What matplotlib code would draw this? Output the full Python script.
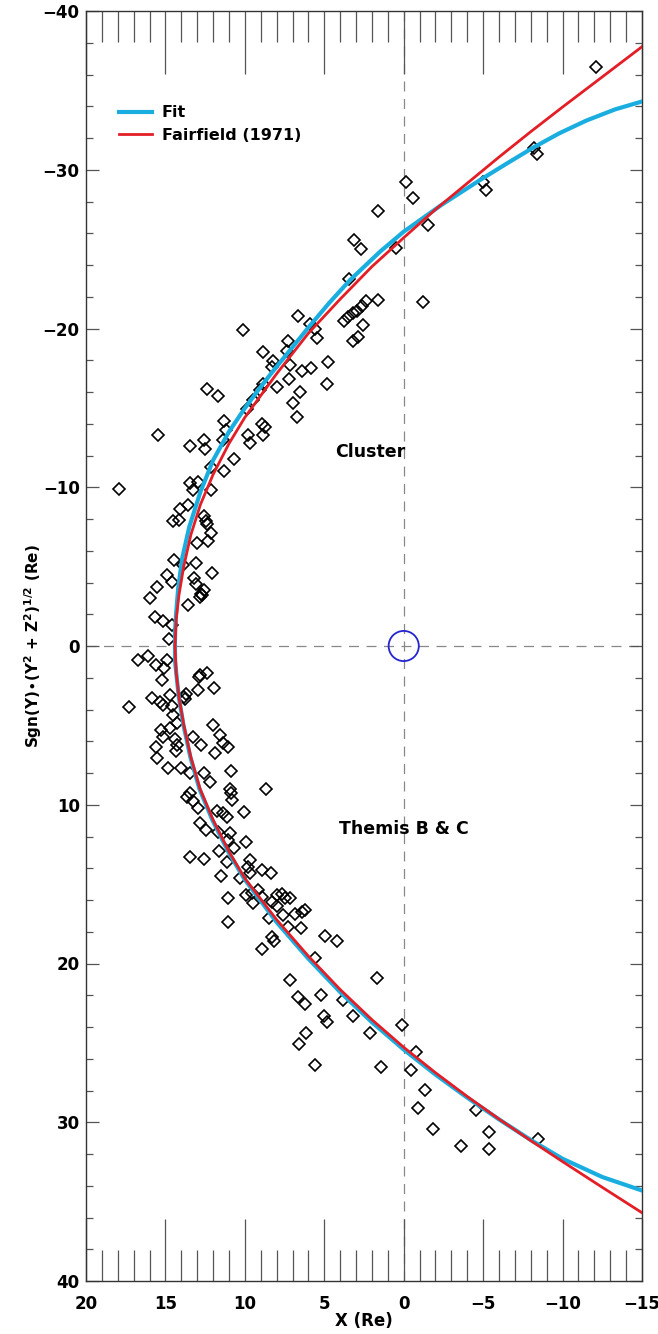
import numpy as np
import matplotlib
matplotlib.use("Agg")
import matplotlib.pyplot as plt
from matplotlib.patches import Circle
from matplotlib.ticker import MultipleLocator

# Cluster crossings (Y < 0 side)
cluster_x = [-12.1, -8.22, -8.37, -5.0, -5.18, -0.14, -0.6, -1.55, 0.5, -1.23,
             1.64, 3.11, 2.69, 3.42, 1.6, 2.4, 2.6, 2.92, 3.21, 3.49, 3.76, 2.59,
             3.21, 2.86, 6.67, 5.9, 5.58, 5.48, 10.1, 7.27, 8.84, 8.25, 8.31, 7.33,
             7.16, 7.2, 7.96, 6.42, 5.84, 4.75, 4.81, 6.53, 7.0, 6.74, 8.88,
             9.88, 9.47, 9.05, 12.4, 11.67, 15.45, 13.45, 12.6, 12.5, 11.3, 11.2,
             11.35, 9.78, 9.67, 8.94, 8.73, 8.84, 10.7, 11.3, 12.1, 13.45, 12.93,
             13.25, 12.1, 17.9, 13.6, 14.07, 14.5, 14.15, 12.6, 12.45, 12.4, 12.1,
             13.03, 12.3, 14.46, 13.9, 13.1, 14.9, 14.6, 12.05, 13.2, 13.08, 12.6,
             12.76, 12.7, 12.8, 15.5, 16.0, 13.56, 15.66, 15.17, 14.6, 14.76]
cluster_y = [-36.5, -31.4, -31.0, -29.2, -28.7, -29.2, -28.2, -26.5, -25.1, -21.7,
             -27.4, -25.6, -25.0, -23.1, -21.8, -21.75, -21.4, -21.1, -20.95, -20.7, -20.5, -20.2,
             -19.2, -19.45, -20.8, -20.3, -20.0, -19.4, -19.9, -19.2, -18.5, -17.95, -17.6, -18.6,
             -17.7, -16.8, -16.3, -17.3, -17.5, -17.9, -16.5, -16.0, -15.3, -14.4, -16.5,
             -14.9, -15.5, -16.1, -16.2, -15.75, -13.3, -12.6, -13.0, -12.4, -14.2, -13.6,
             -13.0, -13.3, -12.8, -14.0, -13.8, -13.3, -11.8, -11.0, -11.3, -10.25, -10.3,
             -9.8, -9.8, -9.9, -8.9, -8.6, -7.85, -7.94, -8.2, -7.85, -7.7, -7.1,
             -6.5, -6.6, -5.4, -5.1, -5.2, -4.5, -4.05, -4.6, -4.26, -3.89, -3.53,
             -3.28, -3.2, -3.1, -3.74, -3.0, -2.58, -1.85, -1.6, -1.3, -0.44]

# Themis B & C crossings (Y > 0 side)
themis_x = [16.7, 16.1, 15.6, 15.1, 14.9, 15.23, 17.27, 15.87, 15.34, 15.17,
            14.7, 13.83, 13.7, 13.75, 14.6, 12.9, 12.8, 12.4, 12.93, 11.92,
            14.5, 14.3, 15.3, 14.7, 15.17, 15.6, 15.5, 14.4, 14.25, 14.33,
            13.25, 12.76, 11.99, 11.56, 11.4, 11.04, 11.9, 14.82, 14.04, 13.45,
            12.6, 12.2, 10.87, 8.67, 10.94, 10.9, 10.83, 13.45, 13.62, 13.25, 12.93,
            11.77, 11.36, 11.15, 10.06, 12.8, 12.45, 11.67, 10.94, 11.04, 10.68,
            9.93, 13.45, 12.6, 11.6, 11.15, 9.68, 9.8, 9.68, 10.3, 8.94, 8.35,
            11.5, 11.04, 11.04, 9.93, 9.47, 9.15, 9.57, 8.94, 8.3, 8.0, 8.0, 7.65,
            7.47, 7.14, 7.62, 6.84, 6.42, 6.2, 8.51, 7.27, 6.45, 8.3, 8.15, 8.9,
            4.93, 4.17, 5.6, 7.18, 6.63, 6.21, 5.22, 5.02, 4.85, 6.15, 6.59, 5.58,
            3.21, 3.84, 2.12, 1.67, 1.45, 0.13, -0.75, -0.44, -1.34, -0.92, -1.85,
            -3.6, -4.55, -5.4, -5.35, -8.45]
themis_y = [0.88, 0.63, 1.2, 1.4, 0.88, 2.14, 3.86, 3.3, 3.5, 3.72,
            3.1, 3.2, 3.05, 3.35, 3.78, 1.93, 1.83, 1.72, 2.77, 2.67,
            4.35, 4.87, 5.3, 5.19, 5.71, 6.34, 7.07, 5.88, 6.24, 6.59,
            5.71, 6.24, 4.98, 5.6, 6.13, 6.34, 6.72, 7.7, 7.7, 8.02,
            8.02, 8.55, 7.87, 9.0, 9.03, 9.24, 9.7, 9.24, 9.49, 9.76, 10.2,
            10.4, 10.54, 10.75, 10.44, 11.17, 11.6, 11.7, 11.8, 12.2, 12.74,
            12.33, 13.3, 13.44, 12.9, 13.6, 13.5, 13.9, 14.3, 14.6, 14.1, 14.3,
            14.5, 15.9, 17.37, 15.7, 16.2, 15.37, 15.55, 15.8, 16.1, 15.7, 16.4, 15.6,
            15.85, 15.85, 16.94, 16.9, 16.75, 16.63, 17.15, 17.68, 17.78, 18.3, 18.58, 19.1,
            18.27, 18.57, 19.67, 21.07, 22.1, 22.55, 21.98, 23.29, 23.67, 24.36, 25.07, 26.4,
            23.31, 22.3, 24.4, 20.9, 26.5, 23.87, 25.56, 26.7, 27.97, 29.08, 30.4,
            31.5, 29.2, 30.6, 31.7, 31.05]

# Fit curve, points
fit_x = [-15.0, -13.3, -11.5, -9.8, -8.16, -6.5, -4.8, -2.4, 0.0, 1.49, 3.38, 4.7,
         6.0, 7.1, 8.2, 9.1, 10.0, 11.0, 12.0, 12.8, 13.5, 13.95, 14.2, 14.33, 14.39, 14.4,
         14.39, 14.32, 14.16, 13.87, 13.43, 12.86, 12.05, 11.05, 10.05, 8.0, 6.0, 4.0,
         2.0, 0.0, -2.0, -4.0, -6.0, -8.0, -10.0, -12.5, -15.0]
fit_y = [-34.3, -33.8, -33.1, -32.3, -31.4, -30.4, -29.35, -27.8, -26.1, -24.84, -23.05, -21.6,
         -20.06, -18.7, -17.35, -16.2, -14.98, -13.5, -11.7, -9.7, -7.5, -5.5, -3.6, -2.0, -1.0, 0.0,
         1.0, 1.7, 3.2, 4.95, 7.0, 9.0, 10.95, 12.95, 14.65, 17.4, 19.7, 21.8,
         23.7, 25.42, 27.0, 28.45, 29.82, 31.12, 32.3, 33.45, 34.3]

# Fairfield (1971) model curve
fair_x = [-15.0, -12.5, -10.0, -8.0, -6.0, -4.0, -2.0, 0.0, 2.0, 4.0, 6.0, 8.0,
          10.0, 11.0, 12.0, 12.8, 13.4, 13.85, 14.15, 14.32, 14.4,
          14.32, 14.15, 13.85, 13.4, 12.82, 12.0, 11.0, 10.0, 8.0, 6.0, 4.0, 2.0,
          0.0, -2.0, -4.0, -6.0, -8.0, -10.0, -12.5, -15.0]
fair_y = [-37.75, -35.85, -33.95, -32.4, -30.8, -29.15, -27.5, -25.72, -23.9, -21.85, -19.7, -17.15,
          -14.4, -12.75, -10.8, -8.9, -7.0, -5.0, -3.2, -1.7, 0.0,
          1.7, 3.2, 4.95, 7.0, 9.0, 10.95, 12.95, 14.64, 17.24, 19.54, 21.64, 23.54,
          25.28, 26.88, 28.38, 29.8, 31.16, 32.48, 34.1, 35.7]

fit_color = "#1AAEE0"
fair_color = "#E41E26"

fig = plt.figure(figsize=(6.58, 13.34), dpi=100)
ax = fig.add_axes([86 / 658, 53 / 1334, 556 / 658, 1270 / 1334])

ax.axvline(0, color="#888888", lw=0.9, dashes=(8, 6), zorder=1)
ax.axhline(0, color="#888888", lw=0.9, dashes=(8, 6), zorder=1)

ax.plot(cluster_x, cluster_y, ls="none", marker="D", ms=6, mfc="none", mec="black", mew=1.2, zorder=3)
ax.plot(themis_x, themis_y, ls="none", marker="D", ms=6, mfc="none", mec="black", mew=1.2, zorder=3)

ax.plot(fit_x, fit_y, color=fit_color, lw=3, label="Fit", zorder=4)
ax.plot(fair_x, fair_y, color=fair_color, lw=2, label="Fairfield (1971)", zorder=5)

ax.add_patch(Circle((0, 0), 0.95, fill=False, ec="#2424D0", lw=1.3, zorder=6))

ax.text(2.12, -12.2, "Cluster", ha="center", va="center", fontsize=12.5, fontweight="bold")
ax.text(0.0, 11.5, "Themis B & C", ha="center", va="center", fontsize=12.5, fontweight="bold")

ax.set_xlim(20, -15)
ax.set_ylim(40, -40)

ax.xaxis.set_major_locator(MultipleLocator(5))
ax.xaxis.set_minor_locator(MultipleLocator(1))
ax.yaxis.set_major_locator(MultipleLocator(10))
ax.yaxis.set_minor_locator(MultipleLocator(2))

ax.tick_params(axis="x", which="major", direction="in", top=True, bottom=True, length=45, width=0.9, color="#555555")
ax.tick_params(axis="x", which="minor", direction="in", top=True, bottom=True, length=22, width=0.9, color="#555555")
ax.tick_params(axis="y", which="major", direction="in", left=True, right=True, length=9, width=0.9, color="#555555")
ax.tick_params(axis="y", which="minor", direction="in", left=True, right=True, length=5, width=0.9, color="#555555")
ax.tick_params(axis="x", which="major", labelsize=12, pad=10)
ax.tick_params(axis="y", which="major", labelsize=12, pad=4.5)
for lab in ax.get_xticklabels() + ax.get_yticklabels():
    lab.set_fontweight("bold")

for spine in ax.spines.values():
    spine.set_linewidth(1.0)
    spine.set_color("#333333")

ax.set_xlabel("X (Re)", fontsize=12, fontweight="bold", labelpad=-1)
ax.set_ylabel(r"Sgn(Y)$\bullet$(Y$^\mathbf{2}$ + Z$^\mathbf{2}$)$^\mathbf{1/2}$ (Re)",
              fontsize=11, fontweight="bold", labelpad=-1)

leg = ax.legend(loc="upper left", bbox_to_anchor=(0.033, 0.937), frameon=False,
                handlelength=2.1, handletextpad=0.6, labelspacing=0.45,
                prop={"size": 11.5, "weight": "bold"})

fig.savefig("out.png", dpi=100)
